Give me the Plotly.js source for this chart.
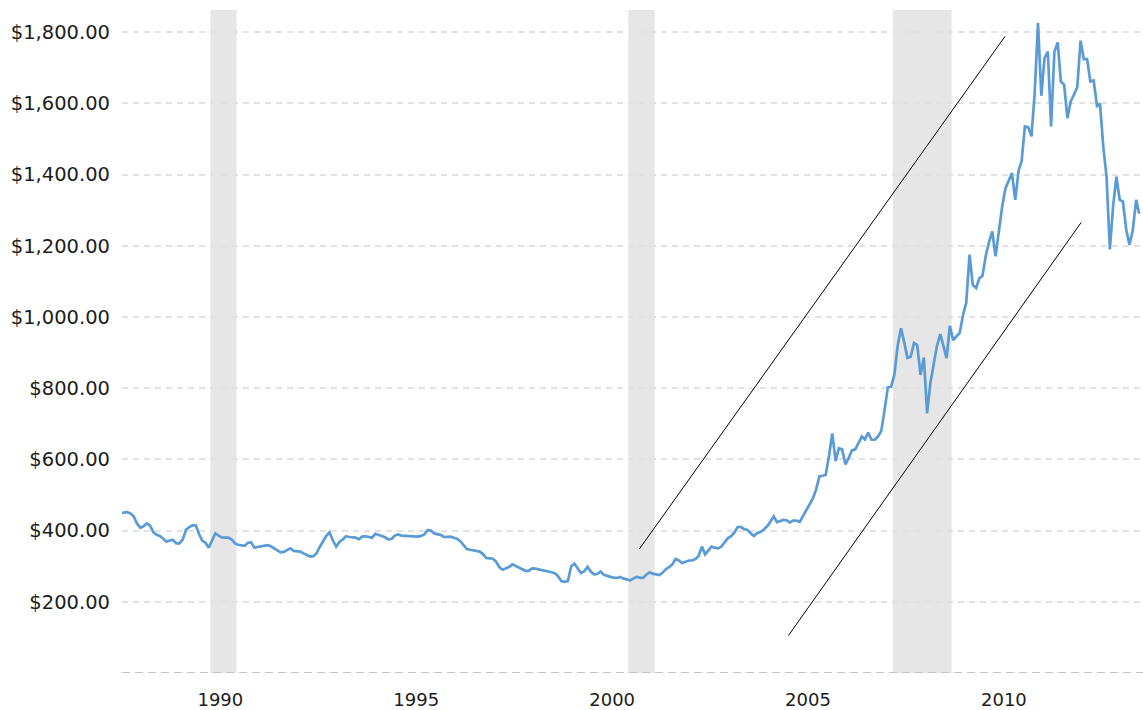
<!DOCTYPE html>
<html>
<head>
<meta charset="utf-8">
<script src="https://cdn.plot.ly/plotly-3.0.1.min.js"></script>
<style>
  html, body { margin: 0; padding: 0; background: #ffffff; }
  #chart { width: 1143px; height: 710px; }
</style>
</head>
<body>
<div id="chart"></div>
<script>
// ---- DATA ----
// Monthly gold price (USD/oz), starting March 1988
const startYear = 1988;
const startMonth = 3;
const goldPrice = [
  // 1988 (Mar-Dec)
  449, 451, 452, 448, 440, 420, 408, 412, 420, 414,
  // 1989
  395, 388, 385, 378, 369, 372, 374, 364, 364, 375, 402, 410,
  // 1990
  415, 414, 391, 372, 366, 352, 372, 392, 386, 381, 380, 380,
  // 1991
  375, 364, 360, 358, 357, 366, 367, 352, 354, 357, 359, 359,
  // 1992
  356, 350, 344, 339, 340, 344, 350, 343, 343, 341, 336, 332,
  // 1993
  327, 328, 336, 354, 370, 385, 395, 372, 355, 368, 375, 384,
  // 1994
  382, 382, 380, 376, 383, 384, 382, 380, 391, 388, 384, 381,
  // 1995
  375, 377, 386, 389, 386, 385, 385, 383, 382, 383, 385, 389,
  // 1996
  401, 400, 392, 390, 388, 382, 383, 383, 380, 377, 370, 360,
  // 1997
  348, 346, 344, 343, 341, 334, 323, 322, 321, 312, 297, 290,
  // 1998
  294, 298, 305, 300, 295, 291, 287, 287, 294, 293, 291, 290,
  // 1999
  288, 286, 283, 280, 272, 258, 256, 258, 300, 307, 292, 281,
  // 2000
  286, 298, 285, 277, 278, 285, 276, 272, 270, 268, 267, 270,
  // 2001
  265, 263, 260, 265, 270, 268, 267, 276, 283, 279, 276, 275,
  // 2002
  282, 292, 297, 305, 320, 316, 309, 312, 316, 316, 320, 328,
  // 2003
  355, 333, 342, 355, 352, 350, 355, 368, 379, 384, 395, 410,
  // 2004
  410, 404, 402, 392, 385, 393, 396, 403, 412, 425, 440, 424,
  // 2005
  426, 430, 429, 423, 428, 428, 424, 440, 455, 470, 490, 515,
  // 2006
  552, 554, 557, 610, 673, 595, 631, 628, 586, 604, 625, 628,
  // 2007
  648, 664, 656, 675, 655, 655, 664, 680, 739, 802, 804, 838,
  // 2008
  920, 968, 930, 885, 888, 927, 921, 837, 886, 729, 815, 869,
  // 2009
  919, 952, 916, 884, 975, 935, 945, 955, 1005, 1040, 1175, 1090,
  // 2010
  1081, 1109, 1115, 1172, 1210, 1240, 1170, 1245, 1310, 1360, 1385, 1404,
  // 2011
  1329, 1411, 1437, 1535, 1533, 1507, 1628, 1825, 1621, 1727, 1745, 1535,
  // 2012
  1745, 1771, 1661, 1652, 1558, 1605, 1624, 1645, 1776, 1724, 1724, 1661,
  // 2013
  1664, 1593, 1599, 1477, 1394, 1190, 1310, 1394, 1329, 1324, 1245, 1203,
  // 2014 (Jan-Mar)
  1244, 1329, 1290
];

// Recession periods (shaded)
const recessionStart = ['1990-07-01', '2001-03-01', '2007-12-01'];
const recessionEnd   = ['1991-03-01', '2001-11-01', '2009-06-01'];

// Trend channel lines
const channelUpperDates  = ['2001-06-11', '2010-10-12'];
const channelUpperValues = [348, 1788];
const channelLowerDates  = ['2005-04-01', '2012-09-20'];
const channelLowerValues = [105, 1265];

// Axis ticks
const xTickYears = [1990, 1995, 2000, 2005, 2010];
const yTickValues = [200, 400, 600, 800, 1000, 1200, 1400, 1600, 1800];

// ---- BUILD ----
const pad = n => (n < 10 ? '0' + n : '' + n);
const dates = goldPrice.map((_, i) => {
  const m0 = (startMonth - 1) + i;
  const y = startYear + Math.floor(m0 / 12);
  const m = (m0 % 12) + 1;
  return y + '-' + pad(m) + '-15';
});

const FONT = 'DejaVu Sans, Verdana, sans-serif';
const textColor = '#1c1c1c';

const traces = [
  {
    x: channelUpperDates, y: channelUpperValues,
    type: 'scatter', mode: 'lines',
    line: { color: '#000000', width: 1 },
    hoverinfo: 'skip', showlegend: false
  },
  {
    x: channelLowerDates, y: channelLowerValues,
    type: 'scatter', mode: 'lines',
    line: { color: '#000000', width: 1 },
    hoverinfo: 'skip', showlegend: false
  },
  {
    x: dates, y: goldPrice,
    type: 'scatter', mode: 'lines',
    line: { color: '#5b9bd5', width: 2.7 },
    showlegend: false
  }
];

const shapes = recessionStart.map((s, i) => ({
  type: 'rect', xref: 'x', yref: 'paper',
  x0: s, x1: recessionEnd[i], y0: 0, y1: 1,
  fillcolor: '#e6e6e6', line: { width: 0 }, layer: 'below'
}));
shapes.push({
  type: 'line', xref: 'paper', yref: 'y',
  x0: 0, x1: 1, y0: 0, y1: 0,
  line: { color: '#c4c4c4', width: 2, dash: '8px,5px' },
  layer: 'above'
});

const layout = {
  width: 1143, height: 710,
  margin: { l: 122, r: 0, t: 10, b: 37 },
  paper_bgcolor: '#ffffff',
  plot_bgcolor: '#ffffff',
  font: { family: FONT, size: 18, color: textColor },
  showlegend: false,
  xaxis: {
    type: 'date',
    range: ['1988-03-28', '2014-04-20'],
    tickmode: 'array',
    tickvals: xTickYears.map(y => y + '-10-01'),
    ticktext: xTickYears.map(String),
    showgrid: false,
    zeroline: false,
    showline: false,
    ticks: '',
    ticklabelstandoff: 14,
    tickfont: { family: FONT, size: 18, color: textColor }
  },
  yaxis: {
    range: [0, 1862],
    tickmode: 'array',
    tickvals: yTickValues,
    tickformat: '$,.2f',
    showgrid: true,
    gridcolor: '#e2e2e2',
    gridwidth: 2,
    griddash: '6px,5px',
    zeroline: false,
    showline: false,
    ticks: '',
    ticklabelstandoff: 11,
    tickfont: { family: FONT, size: 19.5, color: textColor }
  },
  shapes: shapes
};

Plotly.newPlot('chart', traces, layout, { staticPlot: true, displayModeBar: false });
</script>
</body>
</html>
